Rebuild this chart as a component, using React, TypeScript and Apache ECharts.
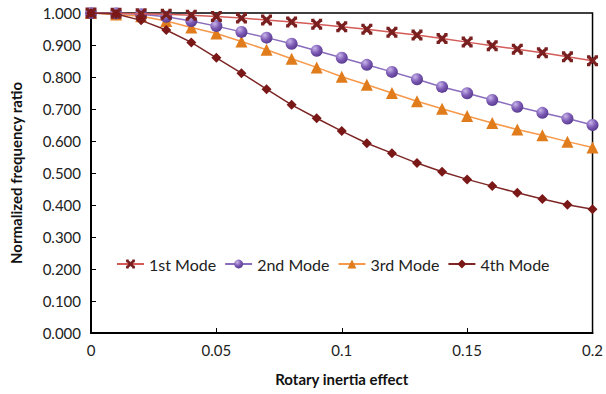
import React, { useEffect, useRef } from "react";
import * as echarts from "echarts";

const xs = [0, 0.01, 0.02, 0.03, 0.04, 0.05, 0.06, 0.07, 0.08, 0.09, 0.1, 0.11, 0.12, 0.13, 0.14, 0.15, 0.16, 0.17, 0.18, 0.19, 0.2];
const mode1 = [1.0, 0.9995, 0.998, 0.996, 0.993, 0.989, 0.984, 0.978, 0.972, 0.965, 0.957, 0.949, 0.94, 0.931, 0.92, 0.909, 0.898, 0.887, 0.876, 0.863, 0.851];
const mode2 = [1.0, 0.999, 0.996, 0.988, 0.975, 0.959, 0.941, 0.923, 0.904, 0.882, 0.86, 0.838, 0.816, 0.793, 0.769, 0.749, 0.728, 0.707, 0.688, 0.67, 0.65];
const mode3 = [1.0, 0.995, 0.99, 0.975, 0.955, 0.936, 0.911, 0.885, 0.857, 0.83, 0.801, 0.776, 0.75, 0.724, 0.701, 0.678, 0.656, 0.636, 0.618, 0.598, 0.58];
const mode4 = [1.0, 0.997, 0.977, 0.947, 0.908, 0.86, 0.812, 0.762, 0.713, 0.671, 0.631, 0.593, 0.562, 0.531, 0.504, 0.48, 0.459, 0.438, 0.419, 0.401, 0.387];
const names = ["1st Mode", "2nd Mode", "3rd Mode", "4th Mode"];
const yTicks = [0, 0.1, 0.2, 0.3, 0.4, 0.5, 0.6, 0.7, 0.8, 0.9, 1.0];

const FONT = "Lato, 'Open Sans', sans-serif";

export default function App() {
  const ref = useRef<HTMLDivElement>(null);
  useEffect(() => {
    if (!ref.current) return;
    const chart = echarts.init(ref.current, null, { renderer: "svg" });
    const pair = (arr: number[]) => xs.map((x, i) => [x, arr[i]]);
    const xSymbol = "path://M0,0 L3,0 L3,1 L5,2.8 L7,1 L7,0 L10,0 L10,3 L9,3 L7.2,5 L9,7 L10,7 L10,10 L7,10 L7,9 L5,7.2 L3,9 L3,10 L0,10 L0,7 L1,7 L2.8,5 L1,3 L0,3 Z";
    const sphere = new echarts.graphic.RadialGradient(0.35, 0.3, 0.8, [
      { offset: 0, color: "#c9b6ea" },
      { offset: 0.5, color: "#7d5bb5" },
      { offset: 1, color: "#4f3386" },
    ]);
    chart.setOption({
      animation: false,
      backgroundColor: "#ffffff",
      grid: { left: 91, right: 8, top: 13, bottom: 61, show: true, borderColor: "#000", borderWidth: 1.5 },
      legend: {
        data: names,
        left: 111,
        top: 251,
        itemWidth: 27,
        itemHeight: 11,
        itemGap: 8,
        textStyle: { fontFamily: FONT, fontSize: 16, color: "#222" },
      },
      xAxis: {
        type: "value",
        min: 0,
        max: 0.2,
        interval: 0.05,
        name: "Rotary inertia effect",
        nameLocation: "middle",
        nameGap: 38,
        nameTextStyle: { fontFamily: FONT, fontSize: 15, fontWeight: "bold", color: "#111" },
        axisLine: { lineStyle: { color: "#000", width: 2 } },
        axisTick: { inside: true, length: 5, lineStyle: { color: "#000" } },
        axisLabel: { fontFamily: FONT, fontSize: 15, color: "#222", margin: 9 },
        splitLine: { show: false },
      },
      yAxis: {
        type: "value",
        min: yTicks[0],
        max: yTicks[yTicks.length - 1],
        interval: 0.1,
        name: "Normalized frequency ratio",
        nameLocation: "middle",
        nameGap: 68,
        nameTextStyle: { fontFamily: FONT, fontSize: 15, fontWeight: "bold", color: "#111" },
        axisLine: { show: true, lineStyle: { color: "#000", width: 2 } },
        axisTick: { show: true, inside: true, length: 5, lineStyle: { color: "#000" } },
        axisLabel: { fontFamily: FONT, fontSize: 15, color: "#222", margin: 10, formatter: (v: number) => v.toFixed(3) },
        splitLine: { show: false },
      },
      series: [
        {
          name: names[0],
          type: "line",
          data: pair(mode1),
          symbol: xSymbol,
          symbolSize: 11,
          lineStyle: { color: "#d35b58", width: 1.5 },
          itemStyle: { color: "#7a1f1f" },
          z: 4,
        },
        {
          name: names[1],
          type: "line",
          data: pair(mode2),
          symbol: "circle",
          symbolSize: 12,
          lineStyle: { color: "#8a6cbc", width: 1.5 },
          itemStyle: { color: sphere },
          z: 3,
        },
        {
          name: names[2],
          type: "line",
          data: pair(mode3),
          symbol: "triangle",
          symbolSize: 12,
          lineStyle: { color: "#f6994a", width: 1.5 },
          itemStyle: { color: "#e07c1c" },
          z: 2,
        },
        {
          name: names[3],
          type: "line",
          data: pair(mode4),
          symbol: "diamond",
          symbolSize: 10,
          lineStyle: { color: "#7e2626", width: 1.5 },
          itemStyle: { color: "#7a1818" },
          z: 5,
        },
      ],
    });
    return () => chart.dispose();
  }, []);
  return <div ref={ref} style={{ width: 606, height: 394, position: "absolute", left: 0, top: 0 }} />;
}
